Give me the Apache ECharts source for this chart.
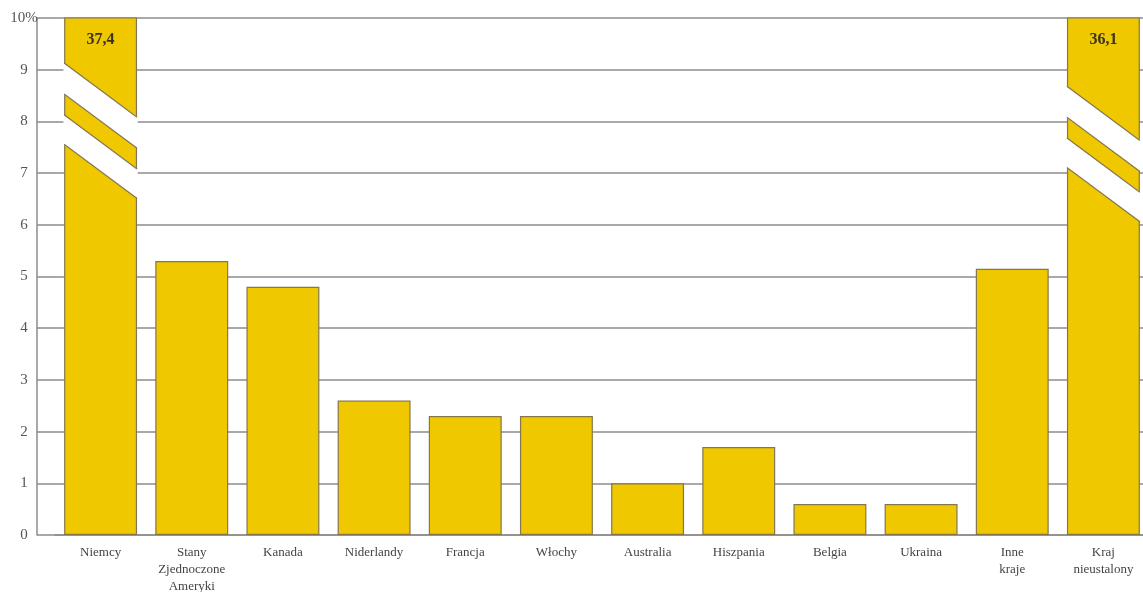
<!DOCTYPE html>
<html>
<head>
<meta charset="utf-8">
<script src="https://cdn.jsdelivr.net/npm/echarts@6/dist/echarts.min.js"></script>
<style>
html, body { margin: 0; padding: 0; background: #fff; overflow: hidden; }
#chart { width: 1143px; height: 592px; }
</style>
</head>
<body>
<div id="chart"></div>
<script>
var countries = ['Niemcy', 'Stany\nZjednoczone\nAmeryki', 'Kanada', 'Niderlandy', 'Francja', 'Włochy',
    'Australia', 'Hiszpania', 'Belgia', 'Ukraina', 'Inne\nkraje', 'Kraj\nnieustalony'];
var shares = [37.4, 5.3, 4.8, 2.6, 2.3, 2.3, 1.0, 1.7, 0.6, 0.6, 5.15, 36.1];
// bars that go off the scale get a diagonal cut, starting at this value (left edge)
var cutIndex = [0, 11];
var cutStart = [9.13, 8.68];

var yMax = 10;
var barFill = '#f0c800';
var barEdge = '#857650';
var gridColor = '#8c8c8c';

var myChart = echarts.init(document.getElementById('chart'));

function renderCut(params, api) {
    var idx = api.value(0);
    var top = api.value(1);
    var c = api.coord([idx, 0]);
    var w = api.size([1, 0])[0] * 0.8;
    var xl = c[0] - w / 2, xr = c[0] + w / 2;
    var drop = 1.05;
    // top piece bottom, stripe top, stripe bottom, lower piece top
    var edges = [top, top - 0.6, top - 1.0, top - 1.57];
    function y(v) { return api.coord([idx, v])[1]; }
    var children = [];
    [[0, 1], [2, 3]].forEach(function (g) {
        var a = edges[g[0]], b = edges[g[1]];
        children.push({
            type: 'polygon',
            shape: { points: [[xl - 0.7, y(a)], [xr + 0.7, y(a - drop)], [xr + 0.7, y(b - drop)], [xl - 0.7, y(b)]] },
            style: { fill: '#fff' }
        });
    });
    edges.forEach(function (v) {
        children.push({
            type: 'line',
            shape: { x1: xl, y1: y(v), x2: xr, y2: y(v - drop) },
            style: { stroke: barEdge, lineWidth: 1.2 }
        });
    });
    return { type: 'group', children: children };
}

var cutData = cutIndex.map(function (c, i) { return [c, cutStart[i]]; });

var option = {
    animation: false,
    backgroundColor: '#fff',
    textStyle: { fontFamily: 'Liberation Serif' },
    grid: { left: 55, width: 1094, top: 18, bottom: 57, containLabel: false, outerBoundsMode: 'none' },
    xAxis: {
        type: 'category',
        data: countries,
        axisLine: { show: true, lineStyle: { color: gridColor, width: 1.5 } },
        axisTick: { show: false },
        axisLabel: {
            interval: 0, margin: 9, color: '#444', fontSize: 13, lineHeight: 17,
            fontFamily: 'Liberation Serif'
        }
    },
    yAxis: {
        type: 'value',
        min: 0, max: yMax, interval: 1,
        offset: 18,
        axisLine: { show: true, lineStyle: { color: gridColor, width: 1.5 } },
        axisTick: { show: true, inside: true, length: 18, lineStyle: { color: gridColor, width: 1.5 } },
        splitLine: { show: true, lineStyle: { color: gridColor, width: 1.5 } },
        axisLabel: {
            margin: 13, align: 'center', color: '#555', fontSize: 15,
            fontFamily: 'Liberation Serif',
            formatter: function (v) { return v === yMax ? '10%' : String(v); }
        }
    },
    series: [{
        type: 'bar',
        data: shares,
        barWidth: '80%',
        clip: true,
        itemStyle: { color: barFill, borderColor: barEdge, borderWidth: 1.2 },
        label: {
            show: true, position: 'insideTop', distance: 14,
            color: '#3a3320', fontSize: 16, fontWeight: 'bold', fontFamily: 'Liberation Serif',
            formatter: function (p) { return p.value > yMax ? String(p.value).replace('.', ',') : ''; }
        },
        z: 2
    }, {
        type: 'custom',
        renderItem: renderCut,
        data: cutData,
        encode: { x: 0, y: 1 },
        silent: true,
        z: 3
    }]
};

myChart.setOption(option);
</script>
</body>
</html>
